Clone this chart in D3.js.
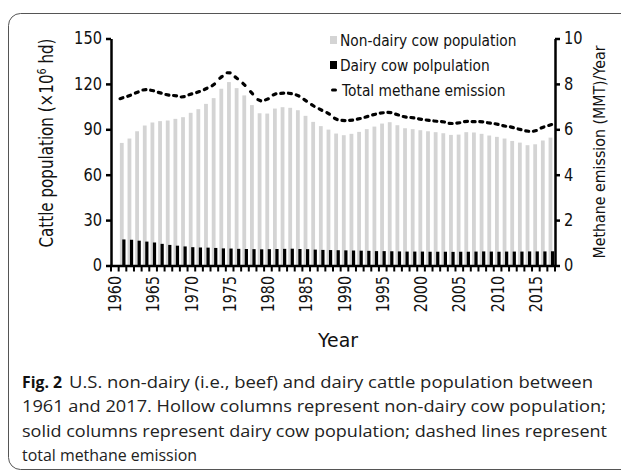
<!DOCTYPE html>
<html><head><meta charset="utf-8">
<script src="https://cdn.jsdelivr.net/npm/d3@7"></script>
<style>
html,body{margin:0;padding:0;background:#fff;}
svg{display:block;}
</style></head>
<body>
<svg id="chart" width="621" height="475"></svg>
<script>
const years = [1960,1961,1962,1963,1964,1965,1966,1967,1968,1969,1970,1971,1972,1973,1974,1975,1976,1977,1978,1979,
1980,1981,1982,1983,1984,1985,1986,1987,1988,1989,1990,1991,1992,1993,1994,1995,1996,1997,1998,1999,
2000,2001,2002,2003,2004,2005,2006,2007,2008,2009,2010,2011,2012,2013,2014,2015,2016,2017];
const dataYears = years.slice(1);
const nonDairy = [81.0,83.9,88.7,92.5,94.5,95.4,95.8,96.9,98.0,100.9,103.3,106.8,110.6,116.8,121.2,117.2,112.4,106.0,100.6,
100.4,103.7,104.6,104.2,102.6,98.9,94.9,92.1,89.8,87.2,86.1,87.0,88.3,90.1,91.8,93.8,94.7,92.7,90.7,90.1,
89.4,88.7,88.1,87.4,86.3,86.5,88.1,87.9,87.0,85.9,85.0,83.9,82.3,81.2,79.5,80.1,82.6,84.5];
const dairy = [17.2,17.0,16.4,15.8,15.2,14.3,13.6,13.1,12.6,12.1,11.9,11.8,11.6,11.3,11.2,11.0,10.9,10.8,10.7,
10.8,10.9,11.0,11.1,10.9,10.8,10.5,10.3,10.2,10.1,10.0,9.9,9.8,9.7,9.5,9.5,9.4,9.3,9.2,9.2,
9.2,9.1,9.1,9.1,9.0,9.1,9.1,9.2,9.3,9.2,9.1,9.2,9.2,9.2,9.3,9.3,9.3,9.4];
const methane = [7.37,7.48,7.62,7.74,7.71,7.61,7.52,7.48,7.43,7.54,7.64,7.78,7.96,8.29,8.49,8.27,7.98,7.61,7.28,
7.32,7.54,7.59,7.58,7.49,7.28,7.05,6.87,6.70,6.46,6.39,6.40,6.46,6.55,6.65,6.72,6.74,6.65,6.55,6.51,
6.45,6.40,6.36,6.33,6.26,6.28,6.34,6.34,6.33,6.28,6.23,6.15,6.09,6.00,5.92,5.93,6.08,6.19];
const leftTicks = [0,30,60,90,120,150];
const rightTicks = [0,2,4,6,8,10];
const yearLabels = [1960,1965,1970,1975,1980,1985,1990,1995,2000,2005,2010,2015];
const legendLabels = ["Non-dairy cow population","Dairy cow polpulation","Total methane emission"];
const captionLines = ["U.S. non-dairy (i.e., beef) and dairy cattle population between",
"1961 and 2017. Hollow columns represent non-dairy cow population;",
"solid columns represent dairy cow population; dashed lines represent",
"total methane emission"];

const svg = d3.select("#chart");
const FONT = "DejaVu Sans, Verdana, sans-serif";
const GREY = "#d4d4d4";

function condense(sel, f){ sel.each(function(){ const L=this.getComputedTextLength(); d3.select(this).attr("textLength", L*f).attr("lengthAdjust","spacingAndGlyphs"); }); }
function fit(sel, w){ sel.attr("textLength", w).attr("lengthAdjust","spacingAndGlyphs"); }

svg.append("rect").attr("x",0).attr("y",0).attr("width",621).attr("height",475).attr("fill","#fff");
svg.append("rect").attr("x",8.5).attr("y",13.5).attr("width",660).attr("height",456).attr("rx",12)
  .attr("fill","none").attr("stroke","#555").attr("stroke-width",1);

const x = d3.scaleBand().domain(years).range([111,555]).padding(0);
const bw = x.bandwidth();
const yL = d3.scaleLinear().domain([0,150]).range([265.5,38.5]);
const yR = d3.scaleLinear().domain([0,10]).range([265.5,38.5]);

// bars
svg.append("g").selectAll("rect").data(dataYears).join("rect")
  .attr("x", d => x(d) + bw/2 - 2.6).attr("width", 3.8)
  .attr("y", (d,i) => yL(nonDairy[i])).attr("height", (d,i) => yL(0) - yL(nonDairy[i]))
  .attr("fill", GREY);
svg.append("g").selectAll("rect").data(dataYears).join("rect")
  .attr("x", d => x(d) + bw/2 - 0.2).attr("width", 3.2)
  .attr("y", (d,i) => yL(dairy[i])).attr("height", (d,i) => yL(0) - yL(dairy[i]))
  .attr("fill", "#000");

// methane dashes
const pts = dataYears.map((d,i) => [x(d) + bw/2 - 1, yR(methane[i])]);
const half = 1.5;
svg.append("g").selectAll("line").data(pts).join("line")
  .each(function(p,i){
    const a = pts[Math.max(0,i-1)], b = pts[Math.min(pts.length-1,i+1)];
    let dx = b[0]-a[0], dy = b[1]-a[1]; const n = Math.hypot(dx,dy); dx/=n; dy/=n;
    d3.select(this).attr("x1", p[0]-dx*half).attr("y1", p[1]-dy*half).attr("x2", p[0]+dx*half).attr("y2", p[1]+dy*half);
  })
  .attr("stroke","#000").attr("stroke-width",3.2).attr("stroke-linecap","round");

// left axis
const gL = svg.append("g").attr("transform","translate(111,0)")
  .call(d3.axisLeft(yL).tickValues(leftTicks).tickSize(5).tickSizeOuter(0).tickPadding(4));
gL.select(".domain").attr("stroke-width",2.5);
gL.selectAll(".tick line").attr("stroke-width",2.5);
gL.selectAll("text").attr("font-family",FONT).attr("font-size",17).attr("fill","#111");
condense(gL.selectAll("text"), 0.86);

// right axis
const gR = svg.append("g").attr("transform","translate(555,0)")
  .call(d3.axisRight(yR).tickValues(rightTicks).tickSize(5).tickSizeOuter(0).tickPadding(4));
gR.select(".domain").attr("stroke-width",2.5);
gR.selectAll(".tick line").attr("stroke-width",2.5);
gR.selectAll("text").attr("font-family",FONT).attr("font-size",17).attr("fill","#111");
condense(gR.selectAll("text"), 0.86);

// x axis
svg.append("line").attr("x1",110).attr("x2",556).attr("y1",266).attr("y2",266).attr("stroke","#000").attr("stroke-width",2.5);
svg.append("g").selectAll("line").data(years.concat(["end"])).join("line")
  .attr("x1", d => d==="end" ? x.range()[1] : x(d)).attr("x2", d => d==="end" ? x.range()[1] : x(d))
  .attr("y1",266).attr("y2",271.5).attr("stroke","#000").attr("stroke-width",2);
const xl = svg.append("g").selectAll("text").data(yearLabels).join("text")
  .attr("transform", d => `translate(${x(d)+bw/2},276) rotate(-90)`)
  .attr("text-anchor","end").attr("dy","0.36em")
  .attr("font-family",FONT).attr("font-size",17).attr("fill","#111").text(d => d);
condense(xl, 0.84);

// axis titles
const ty = svg.append("text").attr("x",338).attr("y",347).attr("text-anchor","middle")
  .attr("font-family",FONT).attr("font-size",19).attr("fill","#111").text("Year");
fit(ty, 40);
const tl = svg.append("text").attr("transform","translate(53,143) rotate(-90)").attr("text-anchor","middle")
  .attr("font-family",FONT).attr("font-size",19).attr("fill","#111");
tl.append("tspan").text("Cattle population (×10");
tl.append("tspan").attr("font-size",12).attr("dy",-7).text("6");
tl.append("tspan").attr("dy",7).text(" hd)");
fit(tl, 209);
const tr = svg.append("text").attr("transform","translate(605,152) rotate(-90)").attr("text-anchor","middle")
  .attr("font-family",FONT).attr("font-size",16.5).attr("fill","#111").text("Methane emission (MMT)/Year");
condense(tr, 0.86);

// legend
const lg = svg.append("g");
const rows = [40,65,90];
lg.append("rect").attr("x",330).attr("y",rows[0]-4).attr("width",7).attr("height",8).attr("fill",GREY);
lg.append("rect").attr("x",330).attr("y",rows[1]-4).attr("width",7).attr("height",8).attr("fill","#000");
lg.append("line").attr("x1",332.5).attr("x2",335.5).attr("y1",rows[2]).attr("y2",rows[2]).attr("stroke","#000").attr("stroke-width",3).attr("stroke-linecap","round");
const lt = lg.selectAll("text.lt").data(legendLabels).join("text").attr("class","lt")
  .attr("x",(d,i)=> i===2 ? 342 : 340).attr("y",(d,i)=>rows[i]).attr("dy","0.36em")
  .attr("font-family",FONT).attr("font-size",16).attr("fill","#111").text(d=>d);
condense(lt, 0.86);

// caption
const CF = "Open Sans, Noto Sans, sans-serif";
const fig = svg.append("text").attr("x",22).attr("y",388).attr("font-family",CF).attr("font-size",16)
  .attr("font-weight","bold").attr("fill","#111").text("Fig. 2");
fit(fig, 40);
const capX = [69,22,22,22], capW = [524,584,585,175], capY = [388,412,437,461];
const cap = svg.selectAll("text.cap").data(captionLines).join("text").attr("class","cap")
  .attr("x",(d,i)=>capX[i]).attr("y",(d,i)=>capY[i])
  .attr("font-family",CF).attr("font-size",16).attr("fill","#222").text(d=>d);
cap.each(function(d,i){ d3.select(this).attr("textLength",capW[i]).attr("lengthAdjust","spacingAndGlyphs"); });
</script>
</body></html>
